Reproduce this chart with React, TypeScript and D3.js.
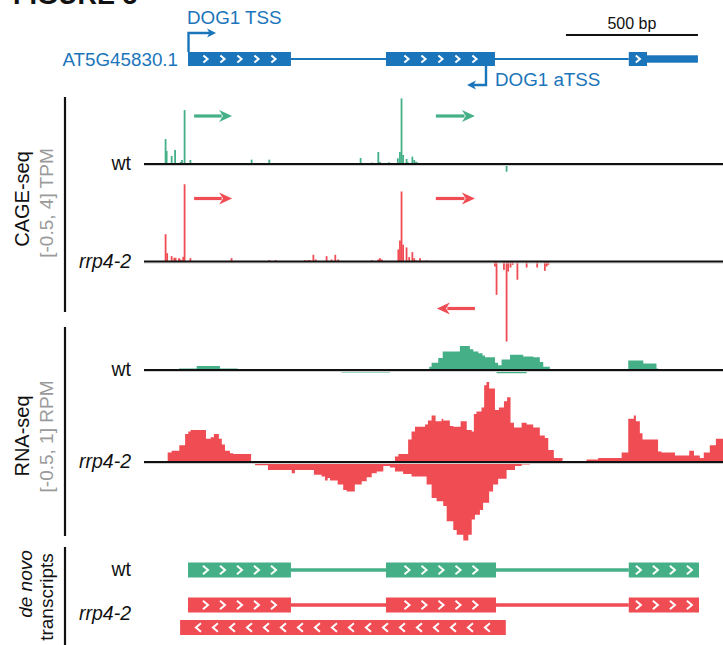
import React from "react";
import * as d3 from "d3";

// genome window, bp from window start
const windowBp = 2190;

const geneName = "AT5G45830.1";
const geneExons = [
  { start: 163, end: 553, chevrons: 5 },
  { start: 913, end: 1326, chevrons: 5 },
  { start: 1833, end: 1902, chevrons: 1 },
];
const geneUtr = { start: 1902, end: 2095 };
const tss = { pos: 163, label: "DOG1 TSS" };
const atss = { pos: 1292, label: "DOG1 aTSS" };
const scaleBar = { start: 1595, end: 2095, label: "500 bp" };

// CAGE-seq, [bp, TPM]
const cageWtPlus: [number, number][] = [
  [78, 1.49], [82, 0.78], [101, 0.48], [114, 0.84], [135, 0.12], [140, 0.24],
  [150, 3.22], [172, 0.24], [205, 0.06], [383, 0.06], [404, 0.26], [471, 0.26],
  [556, 0.06], [640, 0.06], [722, 0.06], [817, 0.36], [859, 0.08], [884, 0.72],
  [890, 0.12], [924, 0.1], [958, 0.34], [966, 0.72], [972, 3.92], [978, 0.54],
  [991, 0.3], [996, 0.1], [1013, 0.44], [1020, 0.24], [1027, 0.14], [1033, 0.08],
];
const cageWtMinus: [number, number][] = [
  [1332, -0.12], [1370, -0.46], [1412, -0.12],
];
const cageRrpPlus: [number, number][] = [
  [78, 1.63], [84, 0.5], [101, 0.32], [111, 0.22], [116, 0.22], [129, 0.2],
  [135, 0.12], [145, 0.28], [150, 4.61], [172, 0.2], [328, 0.2], [471, 0.08],
  [495, 0.08], [606, 0.08], [617, 0.08], [625, 0.08], [638, 0.4], [647, 0.12],
  [688, 0.32], [707, 0.12], [721, 0.4], [732, 0.12], [859, 0.08], [884, 0.12],
  [890, 0.2], [897, 0.12], [960, 0.72], [966, 1.25], [972, 4.18], [978, 1.0],
  [991, 0.84], [1001, 0.26], [1013, 0.56], [1020, 0.2], [1027, 0.06],
  [1042, 0.2], [1067, 0.06],
];
const cageRrpMinus: [number, number][] = [
  [1326, -0.3], [1332, -1.99], [1360, -0.5], [1370, -4.78], [1376, -0.6],
  [1385, -0.36], [1393, -0.2], [1411, -1.09], [1446, -0.36], [1486, -0.36],
  [1515, -0.56], [1522, -0.3], [1528, -0.2],
];
const cagePlusArrows = [[186, 330], [1102, 1250]];
const cageMinusArrow = [1106, 1250];

// RNA-seq coverage steps, [bp where the step starts, RPM]
const rnaWtPlus: [number, number][] = [
  [129, 0.02], [196, 0.05], [284, 0.02], [351, 0], [1077, 0.04], [1086, 0.09],
  [1111, 0.15], [1128, 0.23], [1193, 0.3], [1231, 0.26], [1244, 0.23],
  [1263, 0.21], [1279, 0.18], [1288, 0.16], [1326, 0.09], [1338, 0.06],
  [1351, 0.13], [1383, 0.19], [1433, 0.17], [1471, 0.16], [1496, 0.1],
  [1509, 0.04], [1534, 0], [1831, 0.12], [1888, 0.08], [1938, 0.02], [1944, 0],
];
const rnaWtMinus: [number, number][] = [
  [745, -0.03], [928, 0], [1294, -0.02], [1332, -0.04], [1446, -0.02], [1484, 0],
];
const rnaRrpPlus: [number, number][] = [
  [86, 0.12], [101, 0.14], [130, 0.21], [152, 0.35], [164, 0.38], [173, 0.4],
  [231, 0.29], [249, 0.31], [261, 0.35], [280, 0.29], [291, 0.22], [303, 0.14],
  [322, 0.11], [334, 0.1], [402, 0], [947, 0.07], [960, 0.1], [997, 0.28],
  [1010, 0.38], [1023, 0.44], [1061, 0.47], [1072, 0.52], [1086, 0.58],
  [1101, 0.51], [1124, 0.54], [1130, 0.52], [1155, 0.45], [1168, 0.44],
  [1196, 0.51], [1219, 0.4], [1238, 0.38], [1246, 0.6], [1256, 0.63],
  [1275, 0.68], [1285, 0.96], [1294, 1.0], [1304, 0.92], [1326, 0.65],
  [1341, 0.68], [1360, 0.76], [1372, 0.81], [1385, 0.49], [1398, 0.43],
  [1427, 0.49], [1446, 0.47], [1471, 0.43], [1496, 0.33], [1515, 0.3],
  [1528, 0.15], [1549, 0.05], [1582, 0], [1673, 0.03], [1717, 0.05],
  [1806, 0.12], [1831, 0.54], [1852, 0.58], [1860, 0.51], [1875, 0.36],
  [1885, 0.28], [1944, 0.13], [1957, 0.12], [2008, 0.08], [2062, 0.14],
  [2080, 0.08], [2102, 0.05], [2117, 0.12], [2140, 0.21], [2163, 0.29],
];
const rnaRrpMinus: [number, number][] = [
  [152, -0.02], [284, 0], [371, -0.02], [417, -0.04], [466, -0.1], [556, -0.14],
  [568, -0.1], [640, -0.16], [669, -0.18], [682, -0.23], [692, -0.2],
  [701, -0.23], [730, -0.28], [751, -0.35], [764, -0.37], [795, -0.28],
  [821, -0.24], [840, -0.19], [859, -0.14], [878, -0.12], [903, -0.05],
  [928, -0.07], [947, -0.12], [978, -0.15], [1010, -0.18], [1067, -0.28],
  [1086, -0.45], [1105, -0.49], [1130, -0.55], [1143, -0.74], [1168, -0.85],
  [1181, -0.91], [1206, -0.98], [1225, -0.91], [1238, -0.72], [1250, -0.66],
  [1269, -0.6], [1281, -0.51], [1304, -0.37], [1319, -0.28], [1338, -0.21],
  [1370, -0.1], [1402, -0.05], [1427, -0.03], [1458, -0.02], [1486, 0],
];

// de novo assembled transcripts
const denovoWt = [
  { start: 163, end: 553, chevrons: 5 },
  { start: 913, end: 1330, chevrons: 5 },
  { start: 1833, end: 2099, chevrons: 4 },
];
const denovoRrpPlus = [
  { start: 163, end: 553, chevrons: 5 },
  { start: 913, end: 1330, chevrons: 5 },
  { start: 1833, end: 2099, chevrons: 4 },
];
const denovoRrpMinus = [{ start: 133, end: 1367, chevrons: 18 }];

const GREEN = "#45b088";
const RED = "#f04c53";
const BLUE = "#1b75bb";
const GREY = "#9a9a9a";
const FONT = "'Liberation Sans', Arial, Helvetica, sans-serif";

const W = 723;
const H = 645;

const x = d3.scaleLinear().domain([0, windowBp]).range([145, 723]);
const cageH = d3.scaleLinear().domain([0, 4]).range([0, 67]);
const rnaH = d3.scaleLinear().domain([0, 1]).range([0, 80]);

const withEnd = (s: [number, number][]): [number, number][] =>
  s[s.length - 1][1] === 0 ? s : [...s, [windowBp, s[s.length - 1][1]]];

function Chevrons({ x0, x1, cy, n, dir = 1, size = 3.5 }: any) {
  const step = 17;
  const mid = (x0 + x1) / 2;
  const first = mid - ((n - 1) * step) / 2;
  return (
    <g>
      {d3.range(n).map((i) => {
        const cx = first + i * step;
        const w = size * 0.6 * dir;
        return (
          <path
            key={i}
            d={`M${cx - w},${cy - size} L${cx + w},${cy} L${cx - w},${cy + size}`}
            fill="none"
            stroke="#fff"
            strokeWidth={2}
          />
        );
      })}
    </g>
  );
}

function Arrow({ from, to, y, color, width = 3.2, head = 13, half = 6 }: any) {
  const d = Math.sign(to - from);
  return (
    <g>
      <line x1={from} x2={to - d * head * 0.8} y1={y} y2={y} stroke={color} strokeWidth={width} />
      <path
        d={`M${to},${y} L${to - d * head},${y - half} L${to - d * head * 0.7},${y} L${to - d * head},${y + half} Z`}
        fill={color}
      />
    </g>
  );
}

function Baseline({ y }: { y: number }) {
  return (
    <g>
      <line x1={144} x2={723} y1={y + 1.5} y2={y + 1.5} stroke="#cfcfcf" strokeWidth={1} />
      <line x1={144} x2={723} y1={y} y2={y} stroke="#111" strokeWidth={2} />
    </g>
  );
}

function Cage({ data, base, color }: any) {
  return (
    <g>
      {data.map(([p, v]: [number, number], i: number) => {
        const h = cageH(Math.abs(v));
        return (
          <rect
            key={i}
            x={x(p) - 0.9}
            width={1.8}
            y={v >= 0 ? base - h : base}
            height={h}
            fill={color}
          />
        );
      })}
    </g>
  );
}

function Coverage({ data, base, color }: any) {
  const area = d3
    .area<[number, number]>()
    .x((d) => x(d[0]))
    .y0(base)
    .y1((d) => base - (d[1] >= 0 ? rnaH(d[1]) : -rnaH(-d[1])))
    .curve(d3.curveStepAfter);
  return <path d={area(withEnd(data)) || ""} fill={color} />;
}

function Transcript({ exons, cy, color, dir = 1 }: any) {
  const h = 15;
  return (
    <g>
      {exons.length > 1 && (
        <line
          x1={x(exons[0].end)}
          x2={x(exons[exons.length - 1].start)}
          y1={cy}
          y2={cy}
          stroke={color}
          strokeWidth={3.5}
        />
      )}
      {exons.map((e: any, i: number) => (
        <g key={i}>
          <rect x={x(e.start)} width={x(e.end) - x(e.start)} y={cy - h / 2} height={h} fill={color} />
          <Chevrons x0={x(e.start)} x1={x(e.end)} cy={cy} n={e.chevrons} dir={dir} size={4.2} />
        </g>
      ))}
    </g>
  );
}

function TrackLabel({ y, text, italic = false }: any) {
  return (
    <text
      x={131}
      y={y}
      textAnchor="end"
      fontSize={19.5}
      fontStyle={italic ? "italic" : "normal"}
      fill="#111"
    >
      {text}
    </text>
  );
}

export default function App() {
  const geneY = 59;
  const cageWtBase = 164;
  const cageRrpBase = 261.5;
  const rnaWtBase = 370;
  const rnaRrpBase = 462;

  return (
    <div style={{ position: "absolute", left: 0, top: 0 }}>
      <svg width={W} height={H} viewBox={`0 0 ${W} ${H}`} style={{ display: "block", fontFamily: FONT }}>
        <rect width={W} height={H} fill="#fff" />

        <text x={13} y={4} fontSize={27} fontWeight="bold" fill="#111">
          FIGURE 5
        </text>

        {/* scale bar */}
        <line x1={x(scaleBar.start)} x2={x(scaleBar.end)} y1={35} y2={35} stroke="#111" strokeWidth={2} />
        <text
          x={(x(scaleBar.start) + x(scaleBar.end)) / 2}
          y={28.5}
          textAnchor="middle"
          fontSize={16}
          fill="#111"
        >
          {scaleBar.label}
        </text>

        {/* gene model */}
        <text x={178} y={66} textAnchor="end" fontSize={18.8} fill={BLUE}>
          {geneName}
        </text>
        <line
          x1={x(geneExons[0].end)}
          x2={x(geneExons[geneExons.length - 1].start)}
          y1={geneY}
          y2={geneY}
          stroke={BLUE}
          strokeWidth={2}
        />
        <rect
          x={x(geneUtr.start)}
          width={x(geneUtr.end) - x(geneUtr.start)}
          y={geneY - 3.7}
          height={7.4}
          fill={BLUE}
        />
        {geneExons.map((e, i) => (
          <g key={i}>
            <rect x={x(e.start)} width={x(e.end) - x(e.start)} y={geneY - 7} height={14} fill={BLUE} />
            <Chevrons x0={x(e.start)} x1={x(e.end)} cy={geneY} n={e.chevrons} size={3.5} />
          </g>
        ))}
        <path
          d={`M${x(tss.pos) + 0.5},${geneY - 7} V33 H${x(tss.pos) + 22}`}
          fill="none"
          stroke={BLUE}
          strokeWidth={2.4}
        />
        <path
          d={`M${x(tss.pos) + 28},33 L${x(tss.pos) + 19},28.5 L${x(tss.pos) + 21.5},33 L${x(tss.pos) + 19},37.5 Z`}
          fill={BLUE}
        />
        <text x={x(tss.pos) - 1} y={23.5} fontSize={18.8} fill={BLUE}>
          {tss.label}
        </text>
        <path
          d={`M${x(atss.pos)},${geneY + 7} V85 H${x(atss.pos) - 13}`}
          fill="none"
          stroke={BLUE}
          strokeWidth={2.4}
        />
        <path
          d={`M${x(atss.pos) - 19},85 L${x(atss.pos) - 10},80.5 L${x(atss.pos) - 12.5},85 L${x(atss.pos) - 10},89.5 Z`}
          fill={BLUE}
        />
        <text x={x(atss.pos) + 9} y={86} fontSize={18.8} fill={BLUE}>
          {atss.label}
        </text>

        {/* brackets */}
        <line x1={65} x2={65} y1={97} y2={312} stroke="#111" strokeWidth={2.2} />
        <line x1={65} x2={65} y1={327} y2={536} stroke="#111" strokeWidth={2.2} />
        <line x1={65} x2={65} y1={547} y2={645} stroke="#111" strokeWidth={2.2} />

        <text transform="translate(29,199) rotate(-90)" textAnchor="middle" fontSize={20} fill="#111">
          CAGE-seq
        </text>
        <text transform="translate(52.5,203) rotate(-90)" textAnchor="middle" fontSize={19} fill={GREY}>
          [-0.5, 4] TPM
        </text>
        <text transform="translate(29,436) rotate(-90)" textAnchor="middle" fontSize={20} fill="#111">
          RNA-seq
        </text>
        <text transform="translate(52.5,436.5) rotate(-90)" textAnchor="middle" fontSize={19} fill={GREY}>
          [-0.5, 1] RPM
        </text>
        <text transform="translate(32,584) rotate(-90)" textAnchor="middle" fontSize={19} fontStyle="italic" fill="#111">
          de novo
        </text>
        <text transform="translate(52.5,597) rotate(-90)" textAnchor="middle" fontSize={19} fill="#111">
          transcripts
        </text>

        {/* CAGE-seq */}
        <Cage data={cageWtPlus} base={cageWtBase} color={GREEN} />
        <Cage data={cageWtMinus} base={cageWtBase} color={GREEN} />
        <Cage data={cageRrpPlus} base={cageRrpBase} color={RED} />
        <Cage data={cageRrpMinus} base={cageRrpBase} color={RED} />
        <Baseline y={cageWtBase} />
        <Baseline y={cageRrpBase} />
        {cagePlusArrows.map((a, i) => (
          <g key={i}>
            <Arrow from={x(a[0])} to={x(a[1])} y={116} color={GREEN} />
            <Arrow from={x(a[0])} to={x(a[1])} y={198.5} color={RED} />
          </g>
        ))}
        <Arrow from={x(cageMinusArrow[1])} to={x(cageMinusArrow[0])} y={308.5} color={RED} />
        <TrackLabel y={cageWtBase + 5.5} text="wt" />
        <TrackLabel y={cageRrpBase + 6} text="rrp4-2" italic />

        {/* RNA-seq */}
        <Coverage data={rnaWtPlus} base={rnaWtBase} color={GREEN} />
        <Coverage data={rnaWtMinus} base={rnaWtBase} color={GREEN} />
        <Coverage data={rnaRrpPlus} base={rnaRrpBase} color={RED} />
        <Coverage data={rnaRrpMinus} base={rnaRrpBase} color={RED} />
        <Baseline y={rnaWtBase} />
        <Baseline y={rnaRrpBase} />
        <TrackLabel y={rnaWtBase + 5.5} text="wt" />
        <TrackLabel y={rnaRrpBase + 6} text="rrp4-2" italic />

        {/* de novo transcripts */}
        <Transcript exons={denovoWt} cy={570} color={GREEN} />
        <Transcript exons={denovoRrpPlus} cy={605} color={RED} />
        <Transcript exons={denovoRrpMinus} cy={627.5} color={RED} dir={-1} />
        <TrackLabel y={576} text="wt" />
        <TrackLabel y={620} text="rrp4-2" italic />
      </svg>
    </div>
  );
}
